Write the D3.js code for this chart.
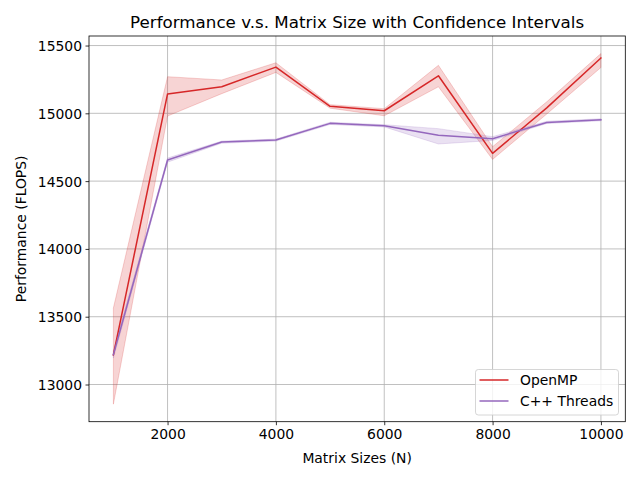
<!DOCTYPE html>
<html>
<head>
<meta charset="utf-8">
<script src="https://cdn.jsdelivr.net/npm/d3@7"></script>
<style>
html,body{margin:0;padding:0;background:#fff;}
text{font-family:"DejaVu Sans",sans-serif;fill:#000;}
</style>
</head>
<body>
<svg id="chart" width="640" height="480"></svg>
<script>
const sizes = [1000, 2000, 3000, 4000, 5000, 6000, 7000, 8000, 9000, 10000];
const ompMean = [13218, 15143, 15196, 15341, 15052, 15019, 15277, 14705, 15040, 15408];
const ompLow  = [12855, 14980, 15145, 15302, 15038, 14982, 15196, 14660, 14995, 15338];
const ompHigh = [13564, 15270, 15246, 15373, 15064, 15034, 15354, 14754, 15085, 15441];
const thrMean = [13220, 14656, 14788, 14803, 14926, 14909, 14838, 14813, 14933, 14953];
const thrLow  = [13195, 14640, 14780, 14795, 14918, 14900, 14774, 14800, 14925, 14945];
const thrHigh = [13250, 14670, 14795, 14810, 14934, 14916, 14887, 14828, 14941, 14960];
const seriesNames = ["OpenMP", "C++ Threads"];
const seriesColors = ["#d62728", "#9467bd"];
const xTicks = [2000, 4000, 6000, 8000, 10000];
const yTicks = [13000, 13500, 14000, 14500, 15000, 15500];

const svg = d3.select("#chart");
const L = 89, R = 625.3, T = 36, B = 421.7;

const x = d3.scaleLinear().domain([550, 10450]).range([L, R]);
const yMin = d3.min(ompLow.concat(thrLow)), yMax = d3.max(ompHigh.concat(thrHigh));
const yPad = (yMax - yMin) * 0.05;
const y = d3.scaleLinear().domain([yMin - yPad, yMax + yPad]).range([B, T]);

// grid
const g = svg.append("g");
g.selectAll(".gx").data(xTicks).enter().append("line")
  .attr("x1", d => x(d)).attr("x2", d => x(d)).attr("y1", T).attr("y2", B)
  .attr("stroke", "#b0b0b0").attr("stroke-width", 0.8);
g.selectAll(".gy").data(yTicks).enter().append("line")
  .attr("x1", L).attr("x2", R).attr("y1", d => y(d)).attr("y2", d => y(d))
  .attr("stroke", "#b0b0b0").attr("stroke-width", 0.8);

const series = [
  {mean: ompMean, low: ompLow, high: ompHigh},
  {mean: thrMean, low: thrLow, high: thrHigh}
];

const area = d3.area().x(d => x(d.x)).y0(d => y(d.lo)).y1(d => y(d.hi));
const line = d3.line().x(d => x(d.x)).y(d => y(d.v));

series.forEach((s, i) => {
  const pts = sizes.map((sz, k) => ({x: sz, v: s.mean[k], lo: s.low[k], hi: s.high[k]}));
  svg.append("path").attr("d", area(pts))
    .attr("fill", seriesColors[i]).attr("fill-opacity", 0.2)
    .attr("stroke", seriesColors[i]).attr("stroke-opacity", 0.2).attr("stroke-width", 1);
});
series.forEach((s, i) => {
  const pts = sizes.map((sz, k) => ({x: sz, v: s.mean[k]}));
  svg.append("path").attr("d", line(pts))
    .attr("fill", "none").attr("stroke", seriesColors[i]).attr("stroke-width", 1.5)
    .attr("stroke-linejoin", "round").attr("stroke-linecap", "square");
});

// axes
const xAxis = d3.axisBottom(x).tickValues(xTicks).tickSize(3.5).tickPadding(3.5).tickFormat(d3.format("d"));
const yAxis = d3.axisLeft(y).tickValues(yTicks).tickSize(3.5).tickPadding(3.5).tickFormat(d3.format("d"));
const gx = svg.append("g").attr("transform", `translate(0,${B})`).call(xAxis);
const gy = svg.append("g").attr("transform", `translate(${L},0)`).call(yAxis);
[gx, gy].forEach(a => {
  a.select(".domain").remove();
  a.selectAll("line").attr("stroke", "#000").attr("stroke-width", 0.8);
  a.selectAll("text").attr("font-size", "13.9px").attr("font-family", "DejaVu Sans").attr("fill", "#000");
});
gx.selectAll("text").attr("dy", "0.76em");
gy.selectAll("text").attr("dy", "0.36em");

// frame
svg.append("rect").attr("x", L).attr("y", T).attr("width", R - L).attr("height", B - T)
  .attr("fill", "none").attr("stroke", "#000").attr("stroke-width", 0.8);

// labels
svg.append("text").attr("x", (L + R) / 2).attr("y", 27.5).attr("text-anchor", "middle")
  .attr("font-size", "16.7px").text("Performance v.s. Matrix Size with Confidence Intervals");
svg.append("text").attr("x", (L + R) / 2).attr("y", 462.5).attr("text-anchor", "middle")
  .attr("font-size", "13.9px").text("Matrix Sizes (N)");
svg.append("text").attr("transform", `translate(26,${(T + B) / 2}) rotate(-90)`).attr("text-anchor", "middle")
  .attr("font-size", "13.9px").text("Performance (FLOPS)");

// legend
const lg = svg.append("g");
lg.append("rect").attr("x", 475.5).attr("y", 369.5).attr("width", 143).attr("height", 45.5)
  .attr("rx", 2.8).attr("fill", "#fff").attr("fill-opacity", 0.8)
  .attr("stroke", "#cccccc").attr("stroke-width", 0.8);
seriesNames.forEach((n, i) => {
  const yy = 380 + i * 21;
  lg.append("line").attr("x1", 479.5).attr("x2", 508.5).attr("y1", yy).attr("y2", yy)
    .attr("stroke", seriesColors[i]).attr("stroke-width", 1.5);
  lg.append("text").attr("x", 520).attr("y", yy + 5).attr("font-size", "13.9px").text(n);
});
</script>
</body>
</html>
